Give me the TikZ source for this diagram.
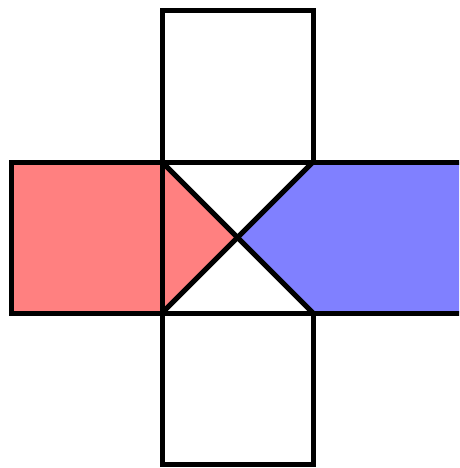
\documentclass[tikz,border=0pt]{standalone}
\usepackage{tikz}

\begin{document}
\begin{tikzpicture}[
        x=1pt, y=-1pt,
        edge/.style={
            draw=black,
            line width=5pt,
            line join=miter
        },
        redfill/.style={fill=red!50},
        bluefill/.style={fill=blue!50}
    ]

    % --- FRAME ---
    \useasboundingbox (0,0) rectangle (459,468);
    \clip (0,0) rectangle (459,468);

    % --- CORNERS ---
    \coordinate (tl) at (162,162);
    \coordinate (tr) at (313,162);
    \coordinate (bl) at (162,313);
    \coordinate (br) at (313,313);
    \coordinate (mid) at (237.5,237.5);
    \coordinate (rtop) at (480,162);
    \coordinate (rbot) at (480,313);

    % --- FILLS ---
    \fill[redfill] (11,162) rectangle (bl);
    \fill[redfill] (tl) -- (mid) -- (bl) -- cycle;
    \fill[bluefill] (mid) -- (tr) -- (rtop) -- (rbot) -- (br) -- cycle;

    % --- SQUARES ---
    \draw[edge] (tl) rectangle (313,11);
    \draw[edge] (bl) rectangle (313,464);
    \draw[edge] (11,162) rectangle (bl);
    \draw[edge] (tl) -- (rtop);
    \draw[edge] (bl) -- (rbot);

    % --- DIAGONALS ---
    \draw[edge] (tl) -- (br);
    \draw[edge] (tr) -- (bl);

\end{tikzpicture}
\end{document}
